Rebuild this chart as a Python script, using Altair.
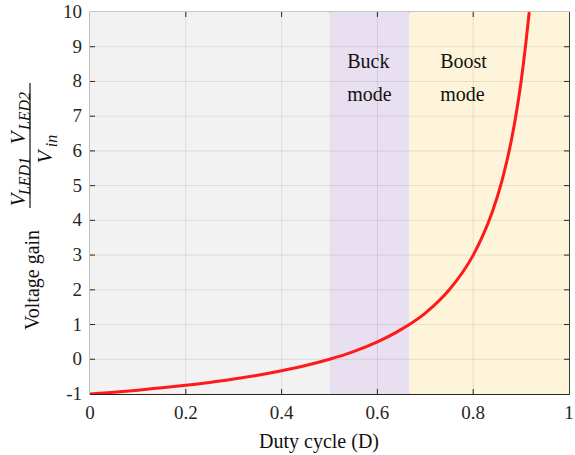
import altair as alt
import pandas as pd

# Voltage gain curve versus duty cycle
duty = [0.0, 0.05, 0.1, 0.15, 0.2, 0.25, 0.3, 0.35, 0.4, 0.45, 0.5, 0.55, 0.6,
        0.65, 0.7, 0.75, 0.8, 0.82, 0.84, 0.86, 0.88, 0.89, 0.9, 0.905, 0.91, 0.917]
gain = [-1.0, -0.95, -0.89, -0.82, -0.75, -0.67, -0.57, -0.46, -0.33, -0.18, 0.0,
        0.22, 0.5, 0.86, 1.33, 2.0, 3.0, 3.56, 4.25, 5.14, 6.33, 7.09, 8.0, 8.53, 9.11, 10.0]

# Operating regions
region_start = [0.0, 0.5, 0.667]
region_end = [0.5, 0.667, 1.0]
region_name = ["inverting", "buck", "boost"]

# Axis ticks and their labels
x_ticks = [0, 0.2, 0.4, 0.6, 0.8, 1]
x_tick_labels = ["0", "0.2", "0.4", "0.6", "0.8", "1"]
y_ticks = [-1, 0, 1, 2, 3, 4, 5, 6, 7, 8, 9, 10]
y_tick_labels = ["-1", "0", "1", "2", "3", "4", "5", "6", "7", "8", "9", "10"]

# Region labels
label_line1 = ["Buck", "Boost"]
label_line2 = ["mode", "mode"]
label_d = [0.537, 0.731]
label_g1 = [8.56, 8.56]
label_g2 = [7.61, 7.61]

W, H = 479, 382
FONT = "Liberation Serif"
INK = "#262626"
TEXT = "#111111"

curve = pd.DataFrame({"D": duty, "G": gain})
regions = pd.DataFrame({"start": region_start, "end": region_end, "name": region_name,
                        "lo": [-1] * 3, "hi": [10] * 3})
xt = pd.DataFrame({"v": x_ticks, "s": x_tick_labels, "lo": -1, "hi": 10})
yt = pd.DataFrame({"v": y_ticks, "s": y_tick_labels, "lo": 0, "hi": 1})
inner_x = xt.iloc[1:-1].reset_index(drop=True)
inner_y = yt.iloc[1:-1].reset_index(drop=True)
labels = pd.DataFrame({"d": label_d, "l1": label_line1, "l2": label_line2,
                       "g1": label_g1, "g2": label_g2})

xs = alt.Scale(domain=[0, 1], nice=False, zero=False)
ys = alt.Scale(domain=[-1, 10], nice=False, zero=False)


def X(field):
    return alt.X(field, type="quantitative", scale=xs, axis=None)


def Y(field):
    return alt.Y(field, type="quantitative", scale=ys, axis=None)


bands = alt.Chart(regions).mark_rect().encode(
    x=X("start"), x2="end", y=Y("hi"), y2="lo",
    color=alt.Color("name:N", scale=alt.Scale(domain=region_name,
                    range=["#f2f2f2", "#e8dff0", "#fef4d9"]), legend=None),
)

grid_x = alt.Chart(inner_x).mark_rule(color="#000000", opacity=0.09, strokeWidth=1).encode(
    x=X("v"), y=Y("hi"), y2="lo")
grid_y = alt.Chart(inner_y).mark_rule(color="#000000", opacity=0.09, strokeWidth=1).encode(
    y=Y("v"), x=X("lo"), x2="hi")

# inward tick marks on all four sides
tk = dict(color=INK, strokeWidth=1)
tick_bottom = alt.Chart(inner_x).mark_rule(**tk).encode(x=X("v"), y=alt.value(H - 5), y2=alt.value(H))
tick_top = alt.Chart(inner_x).mark_rule(**tk).encode(x=X("v"), y=alt.value(0), y2=alt.value(5))
tick_left = alt.Chart(inner_y).mark_rule(**tk).encode(y=Y("v"), x=alt.value(0), x2=alt.value(5))
tick_right = alt.Chart(inner_y).mark_rule(**tk).encode(y=Y("v"), x=alt.value(W - 5), x2=alt.value(W))

# tick labels
xlab = alt.Chart(xt).mark_text(font=FONT, fontSize=19, color=INK, align="center",
                               baseline="middle").encode(x=X("v"), y=alt.value(H + 19), text="s")
ylab = alt.Chart(yt).mark_text(font=FONT, fontSize=19, color=INK, align="right",
                               baseline="middle").encode(y=Y("v"), x=alt.value(-8), text="s")

line = alt.Chart(curve).mark_line(color="#ff1a1a", strokeWidth=3, interpolate="monotone",
                                  clip=True).encode(x=X("D"), y=Y("G"))

txt = dict(font=FONT, fontSize=20, color=TEXT, align="left", baseline="middle")
lab1 = alt.Chart(labels).mark_text(**txt).encode(x=X("d"), y=Y("g1"), text="l1")
lab2 = alt.Chart(labels).mark_text(**txt).encode(x=X("d"), y=Y("g2"), text="l2")

one = pd.DataFrame({"a": [0]})


def t(s, x, y, size, italic=False, angle=270):
    kw = dict(text=s, font=FONT, fontSize=size, color=TEXT, align="center",
              baseline="middle", angle=angle)
    if italic:
        kw["fontStyle"] = "italic"
    return alt.Chart(one).mark_text(**kw).encode(x=alt.value(x), y=alt.value(y))


x_title = t("Duty cycle (D)", 229, 430, 20, angle=0)
y_title = t("Voltage gain", -57, 268, 20)
v1 = t("V", -71, 188, 21, True)
s1 = t("LED1", -65, 164, 16, True)
v2 = t("V", -71, 126, 21, True)
s2 = t("LED2", -65, 99, 16, True)
v3 = t("V", -44, 145, 21, True)
s3 = t("in", -38, 129, 16, True)
bar = alt.Chart(one).mark_rule(color=TEXT, strokeWidth=1.2).encode(
    x=alt.value(-60), y=alt.value(71), y2=alt.value(196))

chart = alt.layer(
    bands, grid_x, grid_y, tick_bottom, tick_top, tick_left, tick_right, line,
    xlab, ylab, lab1, lab2, x_title, y_title, v1, s1, v2, s2, v3, s3, bar,
).properties(
    width=W, height=H,
    autosize=alt.AutoSizeParams(type="none"),
    padding={"left": 90, "top": 12, "right": 6, "bottom": 61},
    background="white",
).configure_view(stroke=INK, strokeWidth=1.2)

chart.save("out.html", embed_options={"renderer": "svg", "actions": False})
